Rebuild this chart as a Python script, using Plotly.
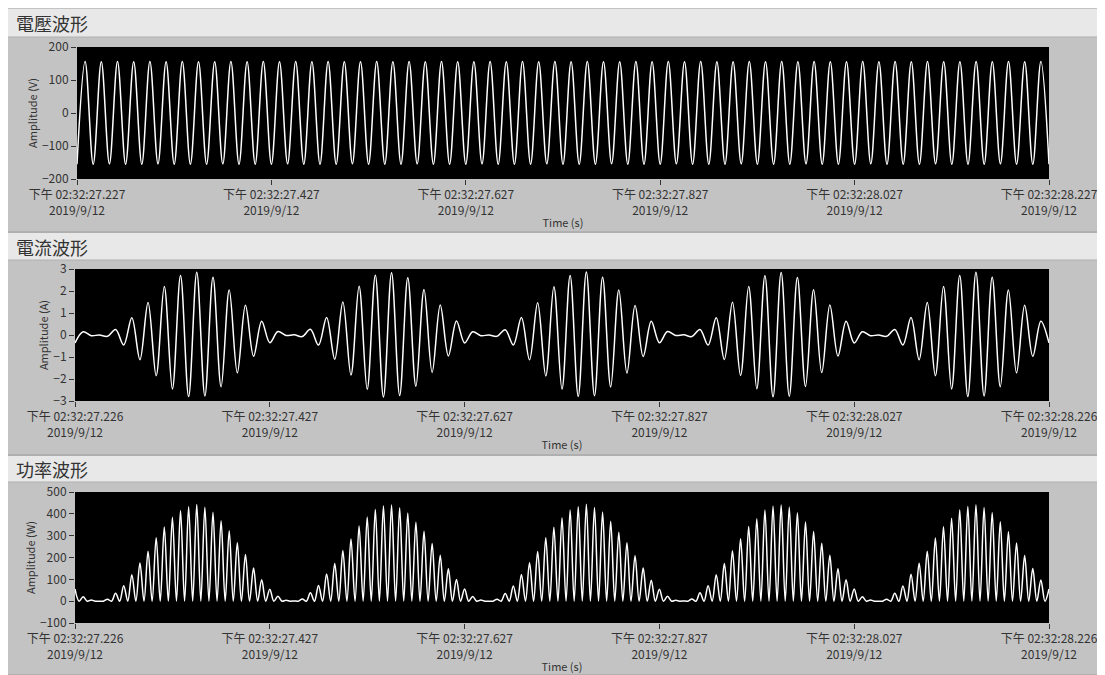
import plotly.graph_objects as go

# LabVIEW style waveforms: t0 = 0, dt = 1/120 s (one value per half cycle peak)
PANEL_TITLES = ["電壓波形", "電流波形", "功率波形"]
Y_TITLES = ["Amplitude (V)", "Amplitude (A)", "Amplitude (W)"]
X_TITLE = "Time (s)"
DATE = "2019/9/12"
TICK_POS = [0, 0.2, 0.4, 0.6, 0.8, 1.0]
TIME_LABELS_V = ["下午 02:32:27.227", "下午 02:32:27.427", "下午 02:32:27.627",
                 "下午 02:32:27.827", "下午 02:32:28.027", "下午 02:32:28.227"]
TIME_LABELS_IP = ["下午 02:32:27.226", "下午 02:32:27.427", "下午 02:32:27.627",
                  "下午 02:32:27.827", "下午 02:32:28.027", "下午 02:32:28.226"]

# voltage peaks, one per half cycle (60 Hz)
VOLTAGE = [
    -155, 156, -155, 155, -154, 156, -155, 155, -155, 156, -154, 155,
    -155, 156, -155, 155, -155, 155, -154, 156, -155, 155, -155, 156,
    -155, 155, -154, 156, -155, 155, -155, 156, -155, 155, -154, 155,
    -155, 156, -155, 155, -155, 156, -154, 155, -155, 156, -155, 155,
    -155, 155, -154, 156, -155, 155, -155, 156, -155, 155, -154, 156,
    -155, 155, -155, 156, -155, 155, -154, 155, -155, 156, -155, 155,
    -155, 156, -154, 155, -155, 156, -155, 155, -155, 155, -154, 156,
    -155, 155, -155, 156, -155, 155, -154, 156, -155, 155, -155, 155,
    -155, 156, -154, 155, -155, 156, -155, 155, -155, 156, -154, 155,
    -155, 155, -155, 156, -155, 155, -154, 156, -155, 155, -155, 156,
    -155,
]

# current peaks, one per half cycle
CURRENT = [
    -0.36, 0.15, -0.03, 0.00, -0.06, 0.25, -0.45, 0.78, -1.12, 1.48, -1.85, 2.20,
    -2.45, 2.70, -2.80, 2.85, -2.77, 2.62, -2.35, 2.05, -1.72, 1.35, -0.97, 0.63,
    -0.35, 0.16, -0.02, 0.01, -0.07, 0.26, -0.46, 0.80, -1.10, 1.50, -1.82, 2.22,
    -2.47, 2.72, -2.82, 2.83, -2.75, 2.60, -2.33, 2.07, -1.70, 1.36, -0.95, 0.64,
    -0.36, 0.15, -0.03, 0.00, -0.06, 0.24, -0.45, 0.79, -1.13, 1.47, -1.86, 2.19,
    -2.46, 2.71, -2.79, 2.86, -2.76, 2.63, -2.36, 2.04, -1.73, 1.34, -0.98, 0.62,
    -0.35, 0.16, -0.02, 0.01, -0.07, 0.25, -0.46, 0.78, -1.11, 1.49, -1.84, 2.21,
    -2.44, 2.69, -2.81, 2.84, -2.78, 2.61, -2.34, 2.06, -1.71, 1.36, -0.96, 0.63,
    -0.36, 0.15, -0.03, 0.00, -0.06, 0.25, -0.45, 0.79, -1.12, 1.48, -1.85, 2.20,
    -2.45, 2.70, -2.80, 2.85, -2.77, 2.62, -2.35, 2.05, -1.72, 1.35, -0.97, 0.63,
    -0.36,
]

# power: peaks (at voltage peaks) and troughs (at zero crossings), dt = 1/240 s
POWER_PEAKS = [
    56, 20, 5, 0, 9, 36, 71, 121, 175, 229, 291, 340,
    384, 415, 433, 443, 430, 407, 368, 322, 268, 214, 152, 98,
    55, 22, 4, 1, 10, 38, 72, 124, 172, 232, 285, 344,
    386, 420, 436, 440, 428, 404, 362, 320, 264, 210, 148, 99,
    56, 21, 5, 0, 9, 35, 70, 122, 176, 228, 290, 339,
    382, 418, 433, 444, 429, 408, 366, 316, 268, 208, 152, 96,
    55, 22, 4, 1, 10, 38, 71, 121, 172, 231, 286, 342,
    378, 417, 435, 441, 431, 405, 363, 319, 265, 210, 149, 98,
    56, 20, 5, 0, 9, 36, 70, 123, 174, 229, 289, 341,
    380, 419, 434, 442, 429, 406, 364, 318, 266, 209, 150, 97,
    56,
]
POWER_TROUGHS = [
    0, 0, 0, 0, 0, 0, 0, 0, 0, 0, 0, 0, 0, 0, 0, 0, 0, 0, 0, 0, 0, 0, 0, 0,
    0, 0, 0, 0, 0, 0, 0, 0, 0, 0, 0, 0, 0, 0, 0, 0, 0, 0, 0, 0, 0, 0, 0, 0,
    0, 0, 0, 0, 0, 0, 0, 0, 0, 0, 0, 0, 0, 0, 0, 0, 0, 0, 0, 0, 0, 0, 0, 0,
    0, 0, 0, 0, 0, 0, 0, 0, 0, 0, 0, 0, 0, 0, 0, 0, 0, 0, 0, 0, 0, 0, 0, 0,
    0, 0, 0, 0, 0, 0, 0, 0, 0, 0, 0, 0, 0, 0, 0, 0, 0, 0, 0, 0, 0, 0, 0, 0,
]

Y_RANGES = [[-200, 200], [-3, 3], [-100, 500]]
Y_DTICKS = [100, 1, 100]

# the page body has an 8px margin, so the figure is drawn 8px in from the corner
OFF = 8
W, H = 1105 - OFF, 675 - OFF
FONT = "Noto Sans CJK TC, Noto Sans, sans-serif"
TEXT = "#333333"


def px(x):
    return (x - OFF) / W


def py(y):
    return 1 - (y - OFF) / H


power = []
for p, t in zip(POWER_PEAKS, POWER_TROUGHS):
    power += [p, t]
power.append(POWER_PEAKS[-1])

series = [(VOLTAGE, 1 / 120), (CURRENT, 1 / 120), (power, 1 / 240)]

# window pixel layout of each panel: header bar, body, plot area
panels = [
    dict(header=(9, 37), body=(37, 232), plot=(77, 1049, 47, 179)),
    dict(header=(233, 260), body=(260, 455), plot=(75, 1049, 269, 401)),
    dict(header=(456, 482), body=(482, 675), plot=(75, 1049, 492, 623)),
]

fig = go.Figure()
shapes, annotations = [], []
layout = {}

for i, (vals, dt) in enumerate(series):
    n = "" if i == 0 else str(i + 1)
    fig.add_trace(go.Scatter(
        y=vals, x0=0, dx=dt, mode="lines",
        line=dict(color="white", width=1.5, shape="spline", smoothing=1),
        xaxis="x" + n, yaxis="y" + n, showlegend=False, hoverinfo="skip",
    ))

    pn = panels[i]
    x0, x1, y0, y1 = pn["plot"]
    labels = TIME_LABELS_V if i == 0 else TIME_LABELS_IP
    layout["xaxis" + n] = dict(
        domain=[px(x0), px(x1)], anchor="y" + n, range=[0, 1], automargin=False,
        tickvals=TICK_POS, ticktext=[f"{t}<br>{DATE}" for t in labels],
        ticks="outside", ticklen=5, tickcolor=TEXT, showgrid=False, zeroline=False,
        tickfont=dict(size=12, color=TEXT),
        title=dict(text=X_TITLE, font=dict(size=11, color=TEXT), standoff=2),
    )
    layout["yaxis" + n] = dict(
        domain=[py(y1), py(y0)], anchor="x" + n, range=Y_RANGES[i], dtick=Y_DTICKS[i],
        automargin=False,
        ticks="outside", ticklen=5, tickcolor=TEXT, showgrid=False, zeroline=False,
        tickfont=dict(size=12, color=TEXT),
        title=dict(text=Y_TITLES[i], font=dict(size=11, color=TEXT), standoff=2),
    )

    h0, h1 = pn["header"]
    b0, b1 = pn["body"]
    shapes += [
        dict(type="rect", xref="paper", yref="paper", x0=0, x1=1, y0=py(h1), y1=py(h0),
             fillcolor="#e8e8e8", line_width=0, layer="below"),
        dict(type="rect", xref="paper", yref="paper", x0=px(1100), x1=1, y0=py(b1), y1=py(b0),
             fillcolor="#b4b4b4", line_width=0, layer="below"),
        dict(type="line", xref="paper", yref="paper", x0=0, x1=1, y0=py(b0), y1=py(b0),
             line=dict(color="#b0b0b0", width=1), layer="below"),
        dict(type="line", xref="paper", yref="paper", x0=0, x1=1, y0=py(b1), y1=py(b1),
             line=dict(color="#9c9c9c", width=1), layer="below"),
    ]
    annotations.append(dict(
        text=PANEL_TITLES[i], xref="paper", yref="paper", x=px(14), y=py((h0 + h1) / 2),
        xanchor="left", yanchor="middle", showarrow=False,
        font=dict(size=18, color=TEXT, family=FONT),
    ))

fig.update_layout(
    width=W, height=H,
    margin=dict(l=0, r=0, t=0, b=0),
    paper_bgcolor="#c3c3c3",
    plot_bgcolor="black",
    font=dict(family=FONT, color=TEXT),
    shapes=shapes,
    annotations=annotations,
    **layout,
)

fig.write_html("out.html")
